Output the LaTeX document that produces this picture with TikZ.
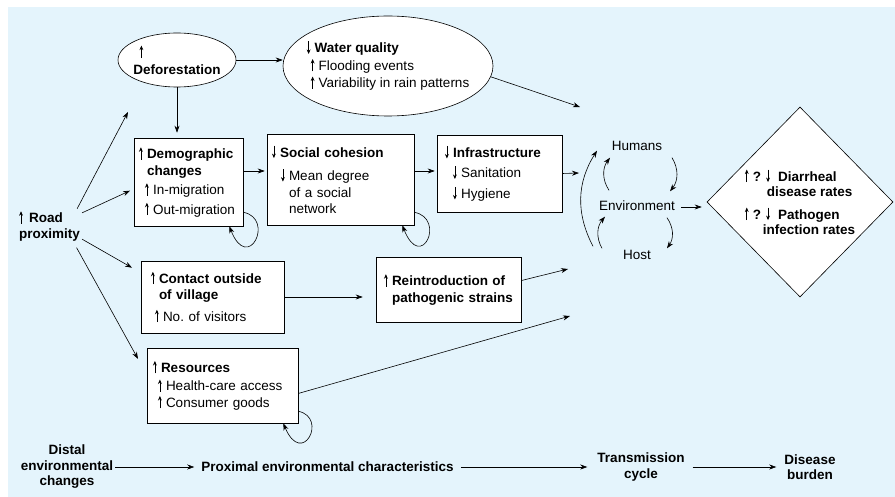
\documentclass[tikz,border=0pt]{standalone}
\usepackage{fontspec}
\setmainfont{Liberation Sans}
\usepackage{tikz}
\usetikzlibrary{arrows.meta,shapes.geometric,positioning}
\definecolor{bgblue}{RGB}{228,244,252}
\tikzstyle{box} = [rectangle, draw=black, fill=white, line width=0.6pt, align=left, inner xsep=5pt, inner ysep=0pt, font=\fontsize{13.5}{16.5}\selectfont]
\tikzstyle{oval} = [ellipse, draw=black, fill=white, line width=0.6pt, align=left, font=\fontsize{13.5}{17.5}\selectfont]
\tikzstyle{rates} = [diamond, draw=black, fill=white, line width=0.6pt, align=left, inner sep=-6pt, font=\bfseries\fontsize{13.5}{15.5}\selectfont]
\tikzstyle{cyc} = [inner sep=2pt, text height=10pt, text depth=3pt, font=\fontsize{13.5}{16}\selectfont]
\tikzstyle{stage} = [align=center, inner sep=2pt, font=\bfseries\fontsize{13.5}{15.5}\selectfont]
\tikzstyle{arrow} = [line width=0.6pt, -{Stealth[length=7pt,width=5pt]}]
\newcommand{\upar}{\makebox[8pt][l]{\tikz[baseline=0pt]\draw[line width=0.6pt,-{Stealth[length=4.5pt,width=3.8pt]}] (1.9pt,-1pt) -- (1.9pt,11.5pt);}}
\newcommand{\dnar}{\makebox[8pt][l]{\tikz[baseline=0pt]\draw[line width=0.6pt,-{Stealth[length=4.5pt,width=3.8pt]}] (1.9pt,11.5pt) -- (1.9pt,-1pt);}}

\begin{document}
\begin{tikzpicture}[x=1pt,y=-1pt]
\useasboundingbox (0,0) rectangle (895,497);
\fill[white] (0,0) rectangle (895,497);
\fill[bgblue] (8,7) rectangle (895,497);

% distal change
\node[stage, align=left] (road) at (49.5,226) {\upar\hspace{2pt}Road\\proximity};

% proximal characteristics
\node[oval, minimum width=118pt, minimum height=54pt, inner sep=-6pt] (defor) at (177,60) {\hspace*{6pt}\upar\\\textbf{Deforestation}};
\node[oval, minimum width=210pt, minimum height=100pt, inner sep=-10pt] (water) at (388,66) {\dnar\textbf{Water quality}\\\hspace*{4pt}\upar Flooding events\\\hspace*{4pt}\upar Variability in rain patterns};
\node[box, minimum width=109pt, minimum height=88pt, text width=99pt] (demo) at (188.5,182) {\upar\textbf{Demographic}\\\hspace*{8pt}\textbf{changes}\\[3pt]\hspace*{6pt}\upar In-migration\\[3pt]\hspace*{6pt}\upar Out-migration};
\node[box, minimum width=147pt, minimum height=91pt, text width=137pt] (social) at (340.5,179.5) {\dnar\textbf{Social cohesion}\\[7pt]\hspace*{9pt}\dnar Mean degree\\\hspace*{17pt}of a social\\\hspace*{17pt}network};
\node[box, minimum width=125pt, minimum height=77pt, text width=115pt] (infra) at (499.5,173.5) {\hspace*{3pt}\dnar\textbf{Infrastructure}\\[4pt]\hspace*{11pt}\dnar Sanitation\\[4pt]\hspace*{11pt}\dnar Hygiene};
\node[box, minimum width=143pt, minimum height=72pt, text width=133pt] (contact) at (212.5,297) {\hspace*{5pt}\upar\textbf{Contact outside}\\\hspace*{13pt}\textbf{of village}\\[5pt]\hspace*{9pt}\upar No.\ of visitors};
\node[box, minimum width=145pt, minimum height=65pt, text width=135pt] (reintro) at (448.5,289.5) {\hspace*{3pt}\upar\textbf{Reintroduction of}\\\hspace*{11pt}\textbf{pathogenic strains}};
\node[box, minimum width=151pt, minimum height=75pt, text width=141pt] (resources) at (222.5,385.5) {\hspace*{1pt}\upar\textbf{Resources}\\[2pt]\hspace*{6pt}\upar Health-care access\\\hspace*{6pt}\upar Consumer goods};

% transmission cycle and burden
\node[cyc] (humans) at (637,147) {Humans};
\node[cyc] (env) at (637,207) {Environment};
\node[cyc] (host) at (637,256) {Host};
\node[rates, minimum width=186pt, minimum height=190pt] (rates) at (800,202) {\upar?\hspace{5pt}\dnar\hspace{4pt}Diarrheal\\\hspace*{22pt}disease rates\\[7pt]\upar?\hspace{5pt}\dnar\hspace{4pt}Pathogen\\\hspace*{18pt}infection rates};

% bottom row
\node[stage] (distal) at (67,467) {Distal\\environmental\\changes};
\node[stage] (proximal) at (327.5,467) {Proximal environmental characteristics};
\node[stage] (trans) at (641,467) {Transmission\\cycle};
\node[stage] (burden) at (810,467) {Disease\\burden};

% free arrow ends
\coordinate (rd) at (128,112);
\coordinate (wq) at (580,107);
\coordinate (inf) at (579,173);
\coordinate (ri) at (568,269);
\coordinate (rs) at (570,316);

\draw[arrow] (road.32) -- (rd);
\draw[arrow, shorten >=4pt] (road.22) -- ([shift={(0,7)}]demo.west);
\draw[arrow, shorten >=10pt] (road.-22) -- ([shift={(0,12)}]contact.north west);
\draw[arrow, shorten <=5pt, shorten >=18pt] (road.-35) -- ([shift={(0,27)}]resources.north west);

\draw[arrow] (defor) -- (defor -| water.west);
\draw[arrow, shorten >=5pt] (defor) -- (defor |- demo.north);
\draw[arrow, shorten >=2pt] ([shift={(0,-11)}]demo.east) -- ([shift={(0,-8.5)}]social.west);
\draw[arrow, shorten >=2pt] ([shift={(0,-8.5)}]social.east) -- ([shift={(0,-2.5)}]infra.west);
\draw[arrow] (infra.east) -- (inf);
\draw[arrow] (water.-6) -- (wq);
\draw[arrow, shorten >=13pt] (contact.east) -- (contact.east -| reintro.west);
\draw[arrow] (reintro.7) -- (ri);
\draw[arrow] (resources.-6) -- (rs);

% feedback loops
\draw[arrow] ([shift={(0,-14)}]demo.south east) .. controls +(32,6) and +(19,48) .. ([shift={(-14,0)}]demo.south east);
\draw[arrow] ([shift={(0,-13)}]social.south east) .. controls +(32,6) and +(19,48) .. ([shift={(-12,0)}]social.south east);
\draw[arrow] ([shift={(0,-12)}]resources.south east) .. controls +(30,6) and +(19,45) .. ([shift={(-15,0)}]resources.south east);

% cycle
\draw[arrow] ([shift={(-28,-8)}]env.north) to[bend left=35] ([shift={(-27,2)}]humans.south);
\draw[arrow] ([shift={(35,2)}]humans.south) to[bend left=35] ([shift={(33,-7)}]env.north);
\draw[arrow] ([shift={(-35,1)}]host.north) to[bend left=35] ([shift={(-32,1)}]env.south);
\draw[arrow] ([shift={(30,2)}]env.south) to[bend left=35] ([shift={(30,1)}]host.north);
\draw[arrow] ([shift={(-44,-1)}]host.north) to[bend left=30] ([shift={(-40,-5)}]humans.south);
\draw[arrow, shorten <=4pt, shorten >=5pt] (env.east) -- (env.east -| rates.west);

\draw[arrow, shorten >=5pt] (distal) -- (proximal);
\draw[arrow, shorten <=5pt, shorten >=8pt] (proximal) -- (trans);
\draw[arrow, shorten <=6pt, shorten >=6pt] (trans) -- (burden);
\end{tikzpicture}
\end{document}
